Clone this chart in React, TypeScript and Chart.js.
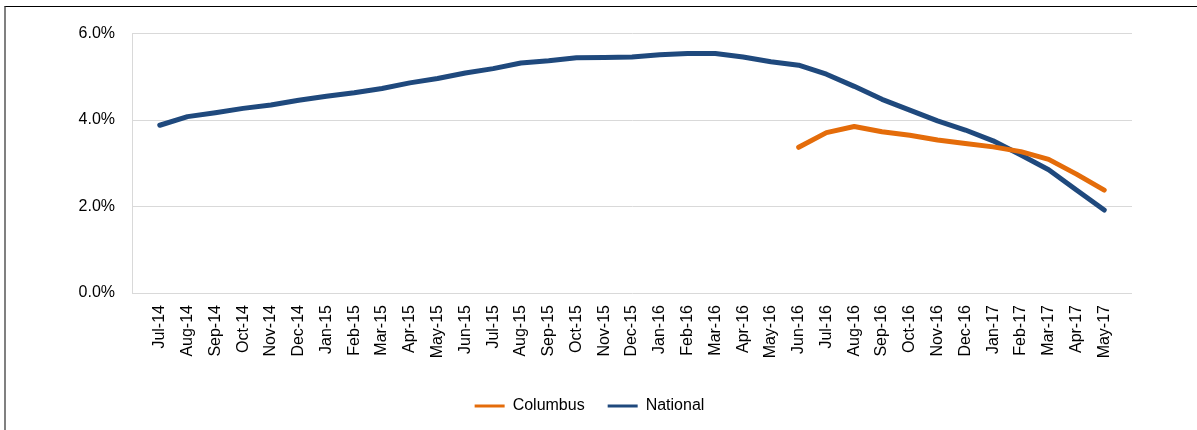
import React, { useEffect, useRef } from "react";
import { Chart, registerables } from "chart.js";

Chart.register(...registerables);

const months: string[] = [
  "Jul-14", "Aug-14", "Sep-14", "Oct-14", "Nov-14", "Dec-14",
  "Jan-15", "Feb-15", "Mar-15", "Apr-15", "May-15", "Jun-15",
  "Jul-15", "Aug-15", "Sep-15", "Oct-15", "Nov-15", "Dec-15",
  "Jan-16", "Feb-16", "Mar-16", "Apr-16", "May-16", "Jun-16",
  "Jul-16", "Aug-16", "Sep-16", "Oct-16", "Nov-16", "Dec-16",
  "Jan-17", "Feb-17", "Mar-17", "Apr-17", "May-17",
];

const national: number[] = [
  3.88, 4.08, 4.17, 4.27, 4.35, 4.46,
  4.55, 4.63, 4.73, 4.86, 4.96, 5.09,
  5.19, 5.32, 5.37, 5.44, 5.45, 5.46,
  5.51, 5.54, 5.54, 5.46, 5.35, 5.27,
  5.06, 4.78, 4.48, 4.23, 3.98, 3.77,
  3.52, 3.19, 2.85, 2.38, 1.92,
];

const columbus: (number | null)[] = [
  null, null, null, null, null, null,
  null, null, null, null, null, null,
  null, null, null, null, null, null,
  null, null, null, null, null, 3.37,
  3.71, 3.85, 3.73, 3.65, 3.54, 3.46,
  3.38, 3.27, 3.09, 2.75, 2.38,
];

const yTicks: number[] = [0, 2, 4, 6];

const ORANGE = "#E46C0A";
const BLUE = "#1F497D";
const GRID = "#d9d9d9";
const FONT = "'Liberation Sans', Arial, sans-serif";

export default function App() {
  const ref = useRef<HTMLCanvasElement | null>(null);

  useEffect(() => {
    if (!ref.current) return;
    const toPts = (arr: (number | null)[]) =>
      arr.map((v, i) => ({ x: i, y: v as number }));
    const chart = new Chart(ref.current, {
      type: "line",
      data: {
        datasets: [
          {
            label: "Columbus",
            data: toPts(columbus),
            borderColor: ORANGE,
            backgroundColor: ORANGE,
            borderWidth: 5,
            pointRadius: 0,
            tension: 0,
            borderCapStyle: "round",
            borderJoinStyle: "round",
            spanGaps: false,
          },
          {
            label: "National",
            data: toPts(national),
            borderColor: BLUE,
            backgroundColor: BLUE,
            borderWidth: 5,
            pointRadius: 0,
            tension: 0,
            borderCapStyle: "round",
            borderJoinStyle: "round",
          },
        ],
      },
      options: {
        animation: false,
        responsive: false,
        maintainAspectRatio: false,
        layout: { padding: { top: 26, right: 41, left: 41, bottom: 6 } },
        plugins: {
          tooltip: { enabled: false },
          legend: {
            position: "bottom",
            labels: {
              boxWidth: 30,
              boxHeight: 3,
              padding: 23,
              color: "#000",
              font: { family: FONT, size: 16 },
              generateLabels: (c: any) =>
                (Chart.defaults.plugins.legend.labels as any)
                  .generateLabels(c)
                  .map((l: any) => ({ ...l, lineWidth: 0, fillStyle: l.strokeStyle })),
            },
          },
        },
        scales: {
          x: {
            type: "linear",
            min: -1,
            max: months.length,
            afterFit: (s: any) => {
              s.height = 82;
            },
            afterBuildTicks: (s: any) => {
              const t = [];
              for (let i = -1; i <= months.length; i++) t.push({ value: i });
              s.ticks = t;
            },
            grid: { display: false, drawTicks: false },
            border: { display: false },
            ticks: {
              autoSkip: false,
              minRotation: 90,
              maxRotation: 90,
              padding: 12,
              color: "#000",
              font: { family: FONT, size: 16 },
              callback: (v: any) => {
                const i = Number(v);
                return i >= 0 && i < months.length ? months[i] : "";
              },
            },
          },
          y: {
            min: 0,
            max: 6,
            afterFit: (s: any) => {
              s.width = 85;
            },
            afterBuildTicks: (s: any) => {
              s.ticks = yTicks.map((v) => ({ value: v }));
            },
            grid: { color: GRID, lineWidth: 1, drawTicks: false },
            border: { display: true, color: GRID, width: 1 },
            ticks: {
              padding: 17,
              color: "#000",
              font: { family: FONT, size: 16 },
              callback: (v: any) => Number(v).toFixed(1) + "%",
            },
          },
        },
      },
    });
    return () => chart.destroy();
  }, []);

  return (
    <div
      style={{
        position: "absolute",
        left: 4,
        top: 6,
        width: 1260,
        height: 500,
        borderTop: "1px solid #000",
        borderLeft: "2px solid #808080",
        background: "#fff",
      }}
    >
      <canvas
        ref={ref}
        width={1167}
        height={423}
        style={{ position: "absolute", left: 0, top: 0, width: 1167, height: 423 }}
      />
    </div>
  );
}
